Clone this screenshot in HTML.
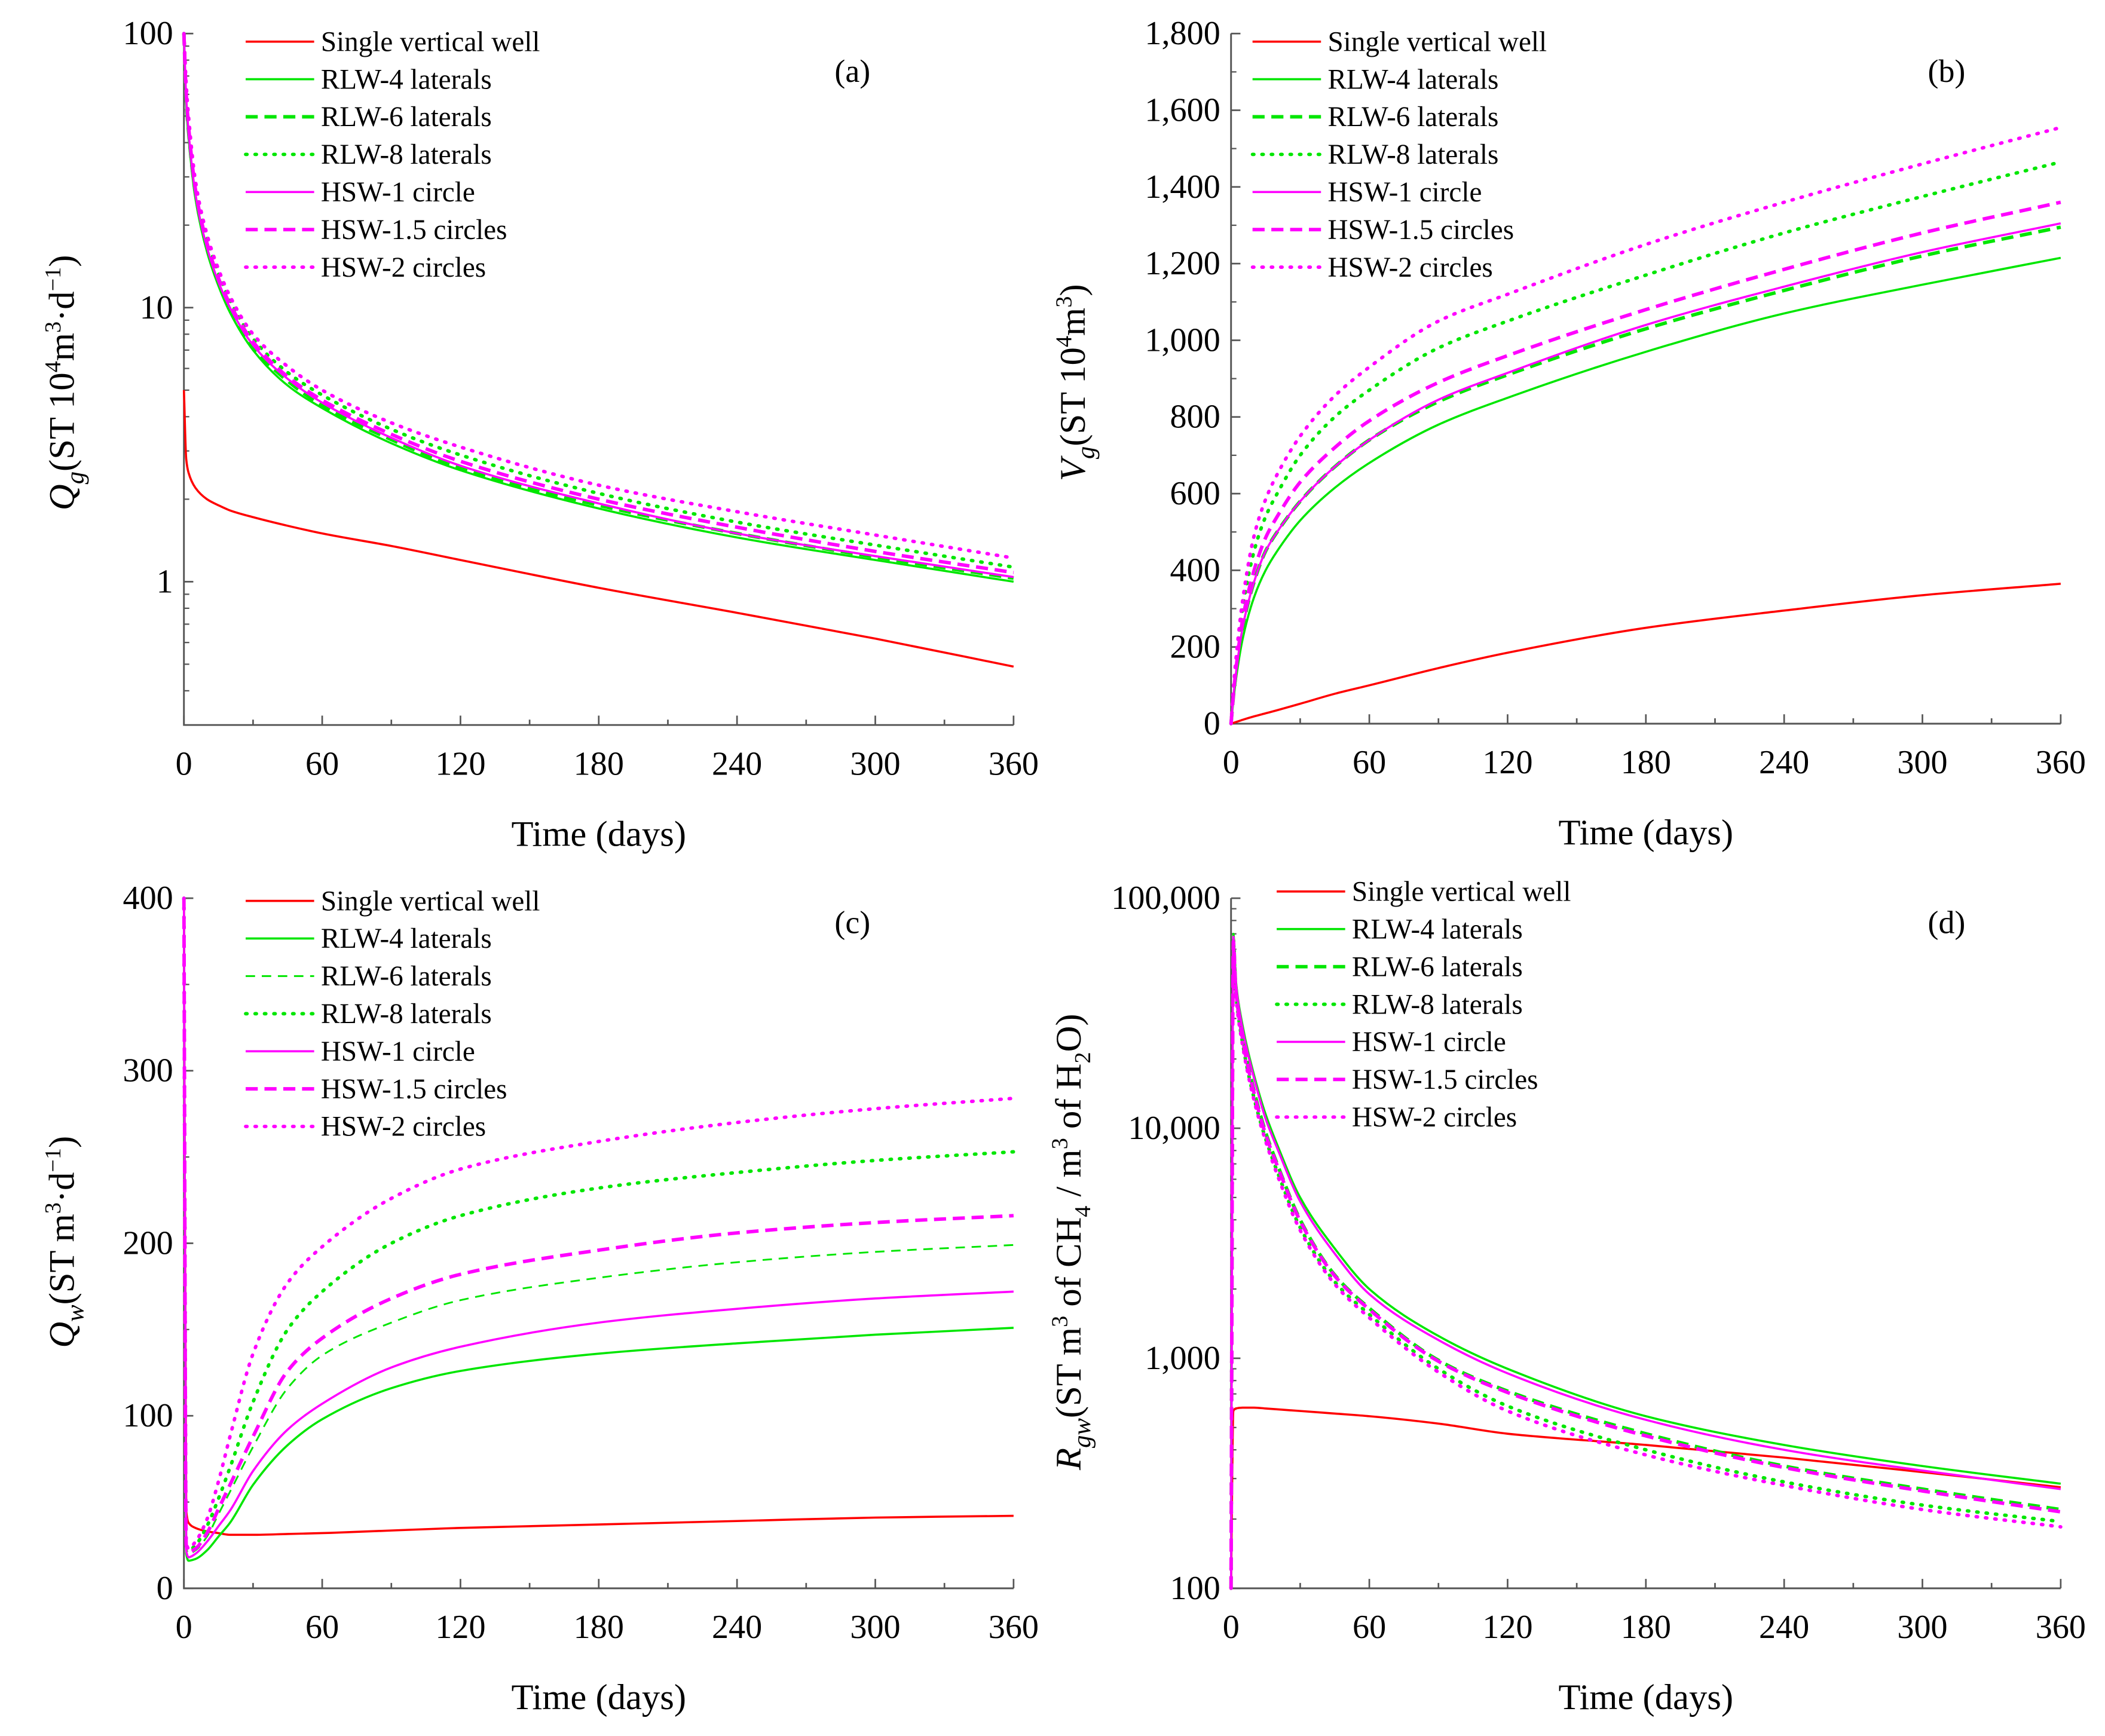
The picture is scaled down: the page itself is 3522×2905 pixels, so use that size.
<!DOCTYPE html>
<html><head><meta charset="utf-8"><style>
html,body{margin:0;padding:0;background:#fff}
svg{display:block;font-family:"Liberation Serif","DejaVu Serif",serif}
text{font-family:"Liberation Serif","DejaVu Serif",serif;fill:#000}
</style></head><body>
<svg id="fig" width="3522" height="2905" viewBox="0 0 1568 1293" preserveAspectRatio="none" font-family="Liberation Serif, DejaVu Serif, serif" xmlns="http://www.w3.org/2000/svg"></svg>
<script>
const days = [0,1,2,5,10,15,20,30,45,60,90,120,180,240,300,360];
const seriesNames = ["Single vertical well","RLW-4 laterals","RLW-6 laterals","RLW-8 laterals","HSW-1 circle","HSW-1.5 circles","HSW-2 circles"];
// Panel (a) gas rate
const qgSingle = [5,2.8,2.5,2.2,2.0,1.9,1.82,1.72,1.6,1.5,1.35,1.2,0.95,0.77,0.62,0.49];
const qgRlw4 = [100,55,42,25,16,12,9.6,7,5.2,4.3,3.2,2.55,1.85,1.45,1.2,1.0];
const qgRlw6 = [100,57,44,26,16.5,12.3,9.9,7.2,5.4,4.4,3.3,2.6,1.9,1.5,1.23,1.03];
const qgRlw8 = [100,62,48,28,18,13.3,10.6,7.7,5.8,4.8,3.6,2.9,2.1,1.65,1.36,1.13];
const qgHsw1 = [100,58,44,26,16.6,12.4,10,7.3,5.5,4.5,3.35,2.65,1.93,1.5,1.24,1.04];
const qgHsw15 = [100,60,46,27,17.2,12.8,10.3,7.5,5.6,4.6,3.45,2.75,2.0,1.58,1.29,1.08];
const qgHsw2 = [100,65,50,29,18.5,13.8,11,8,6.1,5.0,3.8,3.1,2.25,1.8,1.48,1.22];
// Panel (b) cumulative gas
const vgSingle = [0,2,4,10,19,27,35,52,78,100,145,185,250,295,335,365];
const vgRlw4 = [0,60,110,220,330,400,450,530,615,680,780,850,970,1070,1145,1215];
const vgRlw6 = [0,70,125,250,370,450,500,580,670,740,840,910,1030,1130,1220,1295];
const vgRlw8 = [0,85,150,300,450,540,600,700,800,870,980,1050,1170,1280,1375,1465];
const vgHsw1 = [0,70,125,250,370,450,500,580,670,740,845,915,1040,1140,1230,1305];
const vgHsw15 = [0,75,135,270,400,485,540,630,720,790,890,960,1080,1185,1280,1360];
const vgHsw2 = [0,90,160,320,490,585,650,750,855,930,1050,1120,1250,1360,1460,1555];
// Panel (c) water rate
const qwSingle = [400,45,38,35,33,32,31,31,31.5,32,33.5,35,37,39,41,42];
const qwRlw4 = [400,20,16,17,22,30,38,60,83,98,116,126,136,142,147,151];
const qwRlw6 = [400,24,20,22,30,43,56,82,116,135,154,167,180,189,195,199];
const qwRlw8 = [400,26,22,25,36,52,70,108,150,172,200,216,232,241,248,253];
const qwHsw1 = [400,22,18,20,27,36,45,68,92,107,128,140,154,162,168,172];
const qwHsw15 = [400,25,21,23,32,46,60,88,126,145,168,182,196,206,212,216];
const qwHsw2 = [400,27,23,27,40,62,88,136,177,198,226,243,259,270,278,284];
// Panel (d) gas-water ratio
const rgSingle = [100,590,605,610,610,605,600,590,575,560,520,470,420,370,320,275];
const rgRlw4 = [100,70000,45000,28000,17000,11500,8500,5000,3000,2000,1250,900,560,420,340,285];
const rgRlw6 = [100,66000,42000,25000,14500,9600,7000,4000,2300,1650,980,720,470,340,270,220];
const rgRlw8 = [100,64000,40000,23500,13500,9000,6500,3700,2150,1550,900,620,400,290,230,195];
const rgHsw1 = [100,68000,44000,27000,16500,11000,8200,4800,2850,1900,1200,860,540,400,325,270];
const rgHsw15 = [100,65000,41000,24500,14200,9400,6900,3950,2280,1630,970,710,460,335,265,215];
const rgHsw2 = [100,63000,39000,23000,13200,8800,6300,3600,2100,1500,870,590,380,280,220,185];
const xTicks = [0,60,120,180,240,300,360];
const yTicksA = [1,10,100], yTicksALabels = ["1","10","100"];
const yTicksB = [0,200,400,600,800,1000,1200,1400,1600,1800];
const yTicksBLabels = ["0","200","400","600","800","1,000","1,200","1,400","1,600","1,800"];
const yTicksC = [0,100,200,300,400], yTicksCLabels = ["0","100","200","300","400"];
const yTicksD = [100,1000,10000,100000], yTicksDLabels = ["100","1,000","10,000","100,000"];

const NS="http://www.w3.org/2000/svg";
const svg=document.getElementById('fig');
const FF='Liberation Serif, DejaVu Serif, serif';
function mk(tag,attrs,parent){const e=document.createElementNS(NS,tag);for(const k in attrs)e.setAttribute(k,attrs[k]);if(tag==='text')e.setAttribute('font-family',FF);(parent||svg).appendChild(e);return e;}
const RED="#ff0000",GRN="#00e600",MAG="#ff00ff";
function styleOf(i,panel){
  const c=[RED,GRN,GRN,GRN,MAG,MAG,MAG][i];
  let dash="",w=1.6,cap="butt";
  if(i===2||i===5){dash="9,5";w=2.6;}
  if(panel==='c'&&i===2){w=1.3;dash="7,5";}
  if(i===3||i===6){dash="1,6";w=2.6;cap="round";}
  return {c,dash,w,cap};
}
// monotone cubic (Fritsch-Carlson) path
function smoothPath(pts){
  const n=pts.length;
  const dx=[],dy=[],m=[];
  for(let i=0;i<n-1;i++){dx[i]=pts[i+1][0]-pts[i][0];dy[i]=pts[i+1][1]-pts[i][1];m[i]=dx[i]===0?0:dy[i]/dx[i];}
  const t=[];
  t[0]=m[0];t[n-1]=m[n-2];
  for(let i=1;i<n-1;i++){
    if(m[i-1]*m[i]<=0)t[i]=0;
    else{const w1=2*dx[i]+dx[i-1],w2=dx[i]+2*dx[i-1];t[i]=(w1+w2)/(w1/m[i-1]+w2/m[i]);}
  }
  let d=`M${pts[0][0].toFixed(2)},${pts[0][1].toFixed(2)}`;
  for(let i=0;i<n-1;i++){
    if(dx[i]<0.5){d+=` L${pts[i+1][0].toFixed(2)},${pts[i+1][1].toFixed(2)}`;continue;}
    const h=dx[i]/3;
    let t0=t[i],t1=t[i+1];
    if(i===0)t0=m[0];
    d+=` C${(pts[i][0]+h).toFixed(2)},${(pts[i][1]+h*t0).toFixed(2)} ${(pts[i+1][0]-h).toFixed(2)},${(pts[i+1][1]-h*t1).toFixed(2)} ${pts[i+1][0].toFixed(2)},${pts[i+1][1].toFixed(2)}`;
  }
  return d;
}
function panel(cfg){
  const g=mk('g',{});
  
  
  const X=v=>cfg.x0+(v/360)*(cfg.x1-cfg.x0);
  const Y=cfg.log?(v=>cfg.yb-(Math.log10(v)-Math.log10(cfg.ymin))/(Math.log10(cfg.ymax)-Math.log10(cfg.ymin))*(cfg.yb-cfg.yt))
                 :(v=>cfg.yb-(v-cfg.ymin)/(cfg.ymax-cfg.ymin)*(cfg.yb-cfg.yt));
  const ax=mk('path',{d:`M${cfg.x0},${cfg.yt} L${cfg.x0},${cfg.yb} L${cfg.x1},${cfg.yb}`,fill:'none',stroke:'#555','stroke-width':1.3},g);
  
  
  for(let v=0;v<=360;v+=30){const x=X(v);mk('line',{x1:x,x2:x,y1:cfg.yb,y2:cfg.yb-(v%60===0?7:4),stroke:'#555','stroke-width':1.2},g);}
  xTicks.forEach(v=>{const t=mk('text',{x:X(v),y:cfg.yb+37,'font-size':25,'text-anchor':'middle'},g);t.textContent=String(v);
    
    });
  cfg.yt_.forEach((v,i)=>{const y=Y(v);mk('line',{x1:cfg.x0,x2:cfg.x0+7,y1:y,y2:y,stroke:'#555','stroke-width':1.2},g);
    const t=mk('text',{x:cfg.x0-8,y:y+8,'font-size':25,'text-anchor':'end'},g);t.textContent=cfg.yl_[i];
    
    });
  if(cfg.log){let d=Math.pow(10,Math.ceil(Math.log10(cfg.ymin)-1));
    for(let dec=d;dec<cfg.ymax;dec*=10)for(let m=2;m<10;m++){const v=dec*m;if(v>=cfg.ymin&&v<=cfg.ymax){const y=Y(v);mk('line',{x1:cfg.x0,x2:cfg.x0+4,y1:y,y2:y,stroke:'#555','stroke-width':1},g);}}}
  else{const step=(cfg.yt_[1]-cfg.yt_[0])/2;for(let v=cfg.ymin;v<=cfg.ymax;v+=step){const y=Y(v);mk('line',{x1:cfg.x0,x2:cfg.x0+4,y1:y,y2:y,stroke:'#555','stroke-width':1},g);}}
  cfg.series.forEach((arr,i)=>{const s=styleOf(i,cfg.id);
    const pts=days.map((d,k)=>[X(d),Y(arr[k])]);
    const p=mk('path',{d:smoothPath(pts),fill:'none',stroke:s.c,'stroke-width':s.w,'stroke-dasharray':s.dash,'stroke-linecap':s.cap,'stroke-linejoin':'round'},g);
    
    
  });
  const lg=mk('g',{},g);
  
  
  seriesNames.forEach((n,i)=>{const s=styleOf(i,cfg.id);const y=cfg.ly+i*28;
    mk('line',{x1:cfg.lx,x2:cfg.lx+51,y1:y,y2:y,stroke:s.c,'stroke-width':s.w,'stroke-dasharray':s.dash,'stroke-linecap':s.cap},lg);
    const t=mk('text',{x:cfg.lx+56,y:y+7,'font-size':21},lg);t.textContent=n;
    
    });
  const pl=mk('text',{x:cfg.plx,y:cfg.ply,'font-size':24,'text-anchor':'middle'},g);pl.textContent='('+cfg.id+')';
  
  
  const xt=mk('text',{x:(cfg.x0+cfg.x1)/2,y:cfg.yb+90,'font-size':27,'text-anchor':'middle'},g);xt.textContent='Time (days)';
  
  
  const yt=mk('text',{transform:`translate(${cfg.ytx},${cfg.ytyc}) rotate(-90)`,'font-size':27,'text-anchor':'middle'},g);
  yt.innerHTML=cfg.ytitle;
  
  
}
panel({id:'a',x0:137,x1:755,yt:25,yb:540,log:true,ymin:0.3,ymax:100,yt_:yTicksA,yl_:yTicksALabels,
  series:[qgSingle,qgRlw4,qgRlw6,qgRlw8,qgHsw1,qgHsw15,qgHsw2],lx:183,ly:31,plx:635,ply:61,ytx:55,ytyc:285,
  ytitle:'<tspan font-style="italic">Q</tspan><tspan font-style="italic" font-size="19" dy="7">g</tspan><tspan dy="-7">(ST 10</tspan><tspan font-size="17" dy="-10">4</tspan><tspan dy="10">m</tspan><tspan font-size="17" dy="-10">3</tspan><tspan dy="10">·d</tspan><tspan font-size="17" dy="-10">−1</tspan><tspan dy="10">)</tspan>'});
panel({id:'b',x0:917,x1:1535,yt:25,yb:539,log:false,ymin:0,ymax:1800,yt_:yTicksB,yl_:yTicksBLabels,
  series:[vgSingle,vgRlw4,vgRlw6,vgRlw8,vgHsw1,vgHsw15,vgHsw2],lx:933,ly:31,plx:1450,ply:61,ytx:808,ytyc:285,
  ytitle:'<tspan font-style="italic">V</tspan><tspan font-style="italic" font-size="19" dy="7">g</tspan><tspan dy="-7">(ST 10</tspan><tspan font-size="17" dy="-10">4</tspan><tspan dy="10">m</tspan><tspan font-size="17" dy="-10">3</tspan><tspan dy="10">)</tspan>'});
panel({id:'c',x0:137,x1:755,yt:669,yb:1183,log:false,ymin:0,ymax:400,yt_:yTicksC,yl_:yTicksCLabels,
  series:[qwSingle,qwRlw4,qwRlw6,qwRlw8,qwHsw1,qwHsw15,qwHsw2],lx:183,ly:671,plx:635,ply:695,ytx:55,ytyc:925,
  ytitle:'<tspan font-style="italic">Q</tspan><tspan font-style="italic" font-size="19" dy="7">w</tspan><tspan dy="-7">(ST m</tspan><tspan font-size="17" dy="-10">3</tspan><tspan dy="10">·d</tspan><tspan font-size="17" dy="-10">−1</tspan><tspan dy="10">)</tspan>'});
panel({id:'d',x0:917,x1:1535,yt:669,yb:1183,log:true,ymin:100,ymax:100000,yt_:yTicksD,yl_:yTicksDLabels,
  series:[rgSingle,rgRlw4,rgRlw6,rgRlw8,rgHsw1,rgHsw15,rgHsw2],lx:951,ly:664,plx:1450,ply:695,ytx:805,ytyc:925,
  ytitle:'<tspan font-style="italic">R</tspan><tspan font-style="italic" font-size="19" dy="7">gw</tspan><tspan dy="-7">(ST m</tspan><tspan font-size="17" dy="-10">3</tspan><tspan dy="10"> of CH</tspan><tspan font-size="17" dy="7">4</tspan><tspan dy="-7"> / m</tspan><tspan font-size="17" dy="-10">3</tspan><tspan dy="10"> of H</tspan><tspan font-size="17" dy="7">2</tspan><tspan dy="-7">O)</tspan>'});
</script>
</body></html>
